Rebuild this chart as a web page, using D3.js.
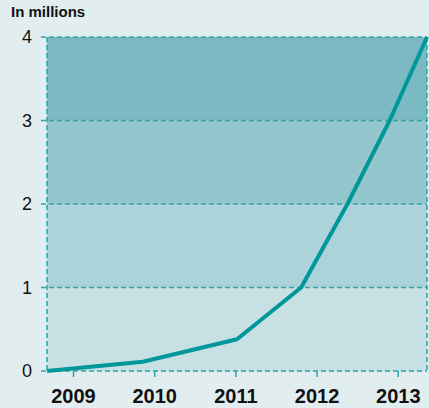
<!DOCTYPE html>
<html><head><meta charset="utf-8">
<script src="https://cdn.jsdelivr.net/npm/d3@7"></script>
<style>
html,body{margin:0;padding:0;background:#e2edef;}
svg{display:block;}
</style></head>
<body>
<svg id="chart" width="429" height="408"></svg>
<script>
const years = [2009, 2010, 2011, 2012, 2013];
const pointYears = [2008.68, 2009.86, 2011.02, 2011.81, 2012.38, 2012.90, 2013.36];
const values = [0, 0.11, 0.38, 1, 2, 3, 4];
const yTicks = [0, 1, 2, 3, 4];
const bandColors = ["#c6e0e4", "#acd3d9", "#94c6cd", "#7bbac2"];
const unitLabel = "In millions";

const svg = d3.select("#chart");
const W = 429, H = 408;
const m = {left: 47, right: 2, top: 37, bottom: 37};
const x = d3.scaleLinear().domain([2008.68, 2013.36]).range([m.left, W - m.right]);
const y = d3.scaleLinear().domain([0, 4]).range([H - m.bottom, m.top]);

svg.append("rect").attr("width", W).attr("height", H).attr("fill", "#e2edef");

svg.append("g").selectAll("rect").data(bandColors).join("rect")
  .attr("x", x.range()[0]).attr("width", x.range()[1] - x.range()[0])
  .attr("y", (d, i) => y(i + 1)).attr("height", (d, i) => y(i) - y(i + 1))
  .attr("fill", d => d);

const gridColor = "#29a6aa";
svg.append("g").selectAll("line").data(yTicks).join("line")
  .attr("x1", m.left - 6).attr("x2", W - m.right)
  .attr("y1", d => y(d)).attr("y2", d => y(d))
  .attr("stroke", gridColor).attr("stroke-width", 1.5).attr("stroke-dasharray", "5,3");
svg.append("g").selectAll("line").data(x.range()).join("line")
  .attr("x1", d => d).attr("x2", d => d)
  .attr("y1", y(4)).attr("y2", y(0))
  .attr("stroke", gridColor).attr("stroke-width", 1.5).attr("stroke-dasharray", "5,3");

svg.append("g").selectAll("text").data(yTicks).join("text")
  .attr("x", 32).attr("y", d => y(d)).attr("dy", "0.35em")
  .attr("text-anchor", "end")
  .attr("font-family", "Liberation Sans, Arial, sans-serif")
  .attr("font-size", 18).attr("fill", "#111")
  .text(d => d);

const xa = svg.append("g").attr("transform", `translate(0,${y(0)})`)
  .call(d3.axisBottom(x).tickValues(years).tickFormat(d3.format("d")).tickSize(6).tickPadding(12));
xa.select(".domain").remove();
xa.selectAll(".tick line").attr("stroke", gridColor).attr("stroke-width", 1.5);
xa.selectAll(".tick text").attr("font-family", "Liberation Sans, Arial, sans-serif")
  .attr("font-size", 20).attr("font-weight", "bold").attr("fill", "#111");

svg.append("text").attr("x", 11).attr("y", 17)
  .attr("font-family", "Liberation Sans, Arial, sans-serif")
  .attr("font-size", 15).attr("font-weight", "bold").attr("fill", "#111")
  .text(unitLabel);

const line = d3.line().x((d, i) => x(pointYears[i])).y(d => y(d));
svg.append("path").datum(values).attr("d", line)
  .attr("fill", "none").attr("stroke", "#00979b").attr("stroke-width", 4)
  .attr("stroke-linejoin", "round");
</script>
</body></html>
